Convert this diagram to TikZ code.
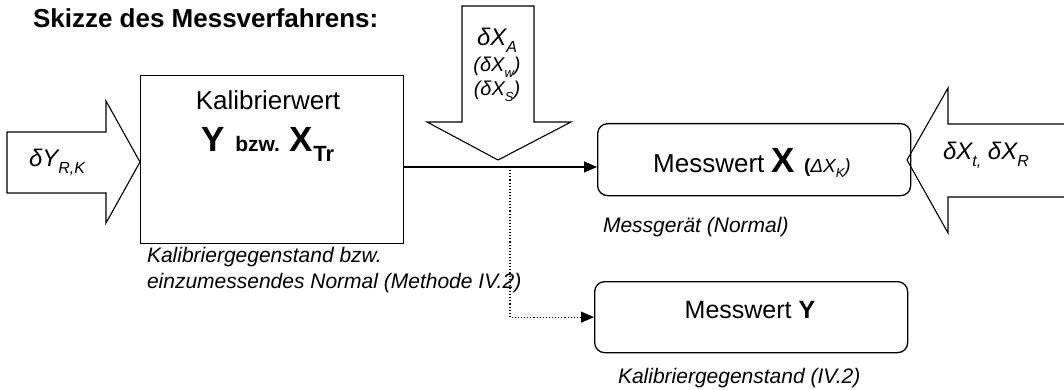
\documentclass[tikz,border=0pt]{standalone}
\usepackage{fontspec}
\setmainfont{Liberation Sans}
\usetikzlibrary{arrows.meta}
\newcommand{\fs}[1]{\fontsize{#1}{#1}\selectfont}
\newcommand{\lowsub}[2]{\raisebox{-0.28em}{\fs{#1}#2}}
\begin{document}
\begin{tikzpicture}[x=1pt,y=-1pt, line width=1.2pt,
  txt/.style={inner sep=0pt, outer sep=0pt},
  plainbox/.style={draw, line width=1.3pt, inner sep=0pt, anchor=north west},
  rbox/.style={draw, rounded corners=10pt, line width=1.3pt, inner sep=0pt, anchor=north west},
  fatarrow/.style={draw, line width=1.1pt, line join=miter},
  tipline/.style={line width=1.1pt, -{Triangle[length=13pt,width=11pt]}},
  dotline/.style={line width=1.1pt, dotted, -{Triangle[length=13pt,width=11pt]}}]
\useasboundingbox (0,0) rectangle (1064,390);
\clip (0,0) rectangle (1064,390);

% title
\node[txt, anchor=base west] (title) at (33,28) {\fs{26}\bfseries Skizze des Messverfahrens:};

% boxes
\node[plainbox, minimum width=263pt, minimum height=168pt] (lbox) at (140,75) {};
\node[rbox, minimum width=313pt, minimum height=72pt] (mbox) at (597,123) {};
\node[rbox, minimum width=313pt, minimum height=71pt] (ybox) at (594,281) {};

% left box text
\node[txt, anchor=base] (kw) at (268,110) {\fs{26}Kalibrierwert};
\node[txt, anchor=base] (ybzw) at (268,152) {\fs{35}\bfseries Y\hspace{10pt}{\fs{21}bzw.}\hspace{10pt}X\lowsub{22}{Tr}};

% fat arrows
\draw[fatarrow] (7,132) -- (106,132) -- (106,101) -- (140,162) -- (106,223) -- (106,193) -- (7,193) -- cycle;
\node[txt, anchor=base west] (dyrk) at (29,167) {\fs{24}\itshape δY\lowsub{16}{R,K}};

\draw[fatarrow] (462,6) -- (534,6) -- (534,122) -- (571,122) -- (498,160) -- (427,122) -- (462,122) -- cycle;
\node[txt, anchor=base] (dxa) at (497,46) {\fs{24}\itshape δX\lowsub{16}{A}};
\node[txt, anchor=base] (dxw) at (497,72) {\fs{20}\itshape (δX\lowsub{13}{w})};
\node[txt, anchor=base] (dxs) at (497,96) {\fs{20}\itshape (δX\lowsub{13}{S})};

\draw[fatarrow] (1070,124) -- (948,124) -- (948,88) -- (907,160) -- (948,233) -- (948,197) -- (1070,197);
\node[txt, anchor=base west] (dxtr) at (943,160) {\fs{24}\itshape δX\lowsub{16}{t,} δX\lowsub{16}{R}};

% box texts
\node[txt, anchor=base] (mx) at (752,172) {\fs{26}Messwert \fs{35}\bfseries X\hspace{9pt}\fs{19}(\mdseries\itshape ΔX\lowsub{13}{K})};
\node[txt, anchor=base] (my) at (750,318) {\fs{25}Messwert \bfseries Y};

% captions
\node[txt, anchor=base west] (cap1) at (603,232) {\fs{21}\itshape Messgerät (Normal)};
\node[txt, anchor=base west] (cap2) at (147,262) {\fs{21}\itshape Kalibriergegenstand bzw.};
\node[txt, anchor=base west] (cap3) at (147,288) {\fs{21}\itshape einzumessendes Normal (Methode IV.2)};
\node[txt, anchor=base west] (cap4) at (618,383) {\fs{21}\itshape Kalibriergegenstand (IV.2)};

% connectors
\coordinate (j) at (510,167);
\draw[tipline] (lbox.east |- j) -- (mbox.west |- j);
\draw[dotline] (j) |- (ybox.west);
\end{tikzpicture}
\end{document}
